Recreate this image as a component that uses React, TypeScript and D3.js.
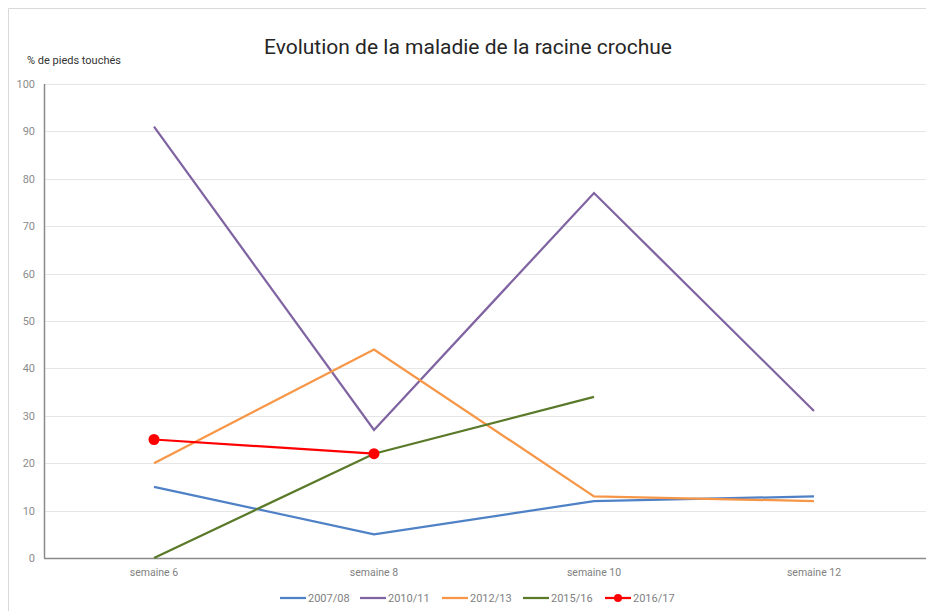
import * as d3 from 'd3';
import { useEffect, useRef } from 'react';

const categories = ['semaine 6', 'semaine 8', 'semaine 10', 'semaine 12'];
const yTicks = [0, 10, 20, 30, 40, 50, 60, 70, 80, 90, 100];

const s200708 = [15, 5, 12, 13];
const s201011 = [91, 27, 77, 31];
const s201213 = [20, 44, 13, 12];
const s201516 = [0, 22, 34, null];
const s201617 = [25, 22, null, null];

const seriesNames = ['2007/08', '2010/11', '2012/13', '2015/16', '2016/17'];
const seriesColors = ['#4f81c7', '#8064a2', '#f79646', '#5a7a2a', '#ff0000'];

function App() {
    const svgRef = useRef<SVGSVGElement>(null);

    useEffect(() => {
        if (!svgRef.current) return;
        const svg = d3.select(svgRef.current);
        svg.selectAll('*').remove();

        const W = 926, H = 611;
        const left = 44, right = 924, top = 84, bottom = 558;
        const font = "'Liberation Sans Narrow', 'Roboto', sans-serif";

        svg.append('rect').attr('width', W).attr('height', H).attr('fill', 'white');

        // chart frame
        svg.append('path')
            .attr('d', `M8.5,${H} L8.5,8.5 L${W},8.5`)
            .attr('fill', 'none')
            .attr('stroke', '#d9d9d9')
            .attr('stroke-width', 1);

        const x = d3.scaleBand<string>().domain(categories).range([left, right]);
        const y = d3.scaleLinear().domain([0, 100]).range([bottom, top]);
        const cx = (i: number) => (x(categories[i]) as number) + x.bandwidth() / 2;

        // gridlines
        svg.append('g')
            .selectAll('line')
            .data(yTicks.filter(t => t > 0))
            .enter().append('line')
            .attr('x1', left).attr('x2', W)
            .attr('y1', d => Math.round(y(d)) + 0.5)
            .attr('y2', d => Math.round(y(d)) + 0.5)
            .attr('stroke', '#e6e6e6')
            .attr('stroke-width', 1);

        // y axis
        const yAxis = svg.append('g')
            .attr('transform', `translate(${left},0)`)
            .call(d3.axisLeft(y).tickValues(yTicks).tickSize(0).tickPadding(9));
        yAxis.select('.domain').remove();
        yAxis.selectAll('.tick text')
            .attr('fill', '#8c8c8c')
            .attr('font-size', '11px')
            .attr('font-family', font);
        svg.append('line')
            .attr('x1', left + 0.5).attr('x2', left + 0.5)
            .attr('y1', top).attr('y2', bottom)
            .attr('stroke', '#8a8a8a').attr('stroke-width', 1.5);

        // x axis
        const xAxis = svg.append('g')
            .attr('transform', `translate(0,${bottom})`)
            .call(d3.axisBottom(x).tickSize(0).tickPadding(11));
        xAxis.select('.domain').remove();
        xAxis.selectAll('.tick text')
            .attr('fill', '#7f7f7f')
            .attr('font-size', '10.5px')
            .attr('font-family', font);
        svg.append('line')
            .attr('x1', left).attr('x2', W)
            .attr('y1', bottom + 0.5).attr('y2', bottom + 0.5)
            .attr('stroke', '#8a8a8a').attr('stroke-width', 1.5);

        // lines
        const allSeries = [s200708, s201011, s201213, s201516, s201617];
        const line = d3.line<number | null>()
            .defined(d => d !== null)
            .x((d, i) => cx(i))
            .y(d => y(d as number));

        allSeries.forEach((s, k) => {
            svg.append('path')
                .datum(s)
                .attr('d', line)
                .attr('fill', 'none')
                .attr('stroke', seriesColors[k])
                .attr('stroke-width', 2.25);
        });

        // markers for 2016/17
        svg.append('g')
            .selectAll('circle')
            .data(s201617.map((v, i) => ({ v, i })).filter(d => d.v !== null))
            .enter().append('circle')
            .attr('cx', d => cx(d.i))
            .attr('cy', d => y(d.v as number))
            .attr('r', 5.5)
            .attr('fill', '#ff0000');

        // title
        svg.append('text')
            .attr('x', 468).attr('y', 54)
            .attr('text-anchor', 'middle')
            .attr('font-family', font)
            .attr('font-size', '21px')
            .attr('fill', '#262626')
            .text('Evolution de la maladie de la racine crochue');

        // y label
        svg.append('text')
            .attr('x', 27).attr('y', 64)
            .attr('font-family', font)
            .attr('font-size', '11px')
            .attr('fill', '#333')
            .text('% de pieds touchés');

        // legend
        const legendX = [280, 360, 442, 523, 605];
        const legend = svg.append('g')
            .selectAll('g')
            .data(seriesNames)
            .enter().append('g')
            .attr('transform', (d, i) => `translate(${legendX[i]},598)`);
        legend.append('line')
            .attr('x1', 0).attr('x2', 26)
            .attr('y1', 0).attr('y2', 0)
            .attr('stroke', (d, i) => seriesColors[i])
            .attr('stroke-width', 2.25);
        legend.filter((d, i) => i === 4)
            .append('circle')
            .attr('cx', 13).attr('cy', 0).attr('r', 4)
            .attr('fill', '#ff0000');
        legend.append('text')
            .attr('x', 28).attr('y', 4)
            .attr('font-family', font)
            .attr('font-size', '11px')
            .attr('fill', '#7f7f7f')
            .text(d => d);

        return () => {
            d3.select(svgRef.current).selectAll('*').remove();
        };
    }, []);

    return (
        <svg ref={svgRef} width={926} height={611}
            style={{ position: 'absolute', left: 0, top: 0, display: 'block' }} />
    );
}

export default App;
